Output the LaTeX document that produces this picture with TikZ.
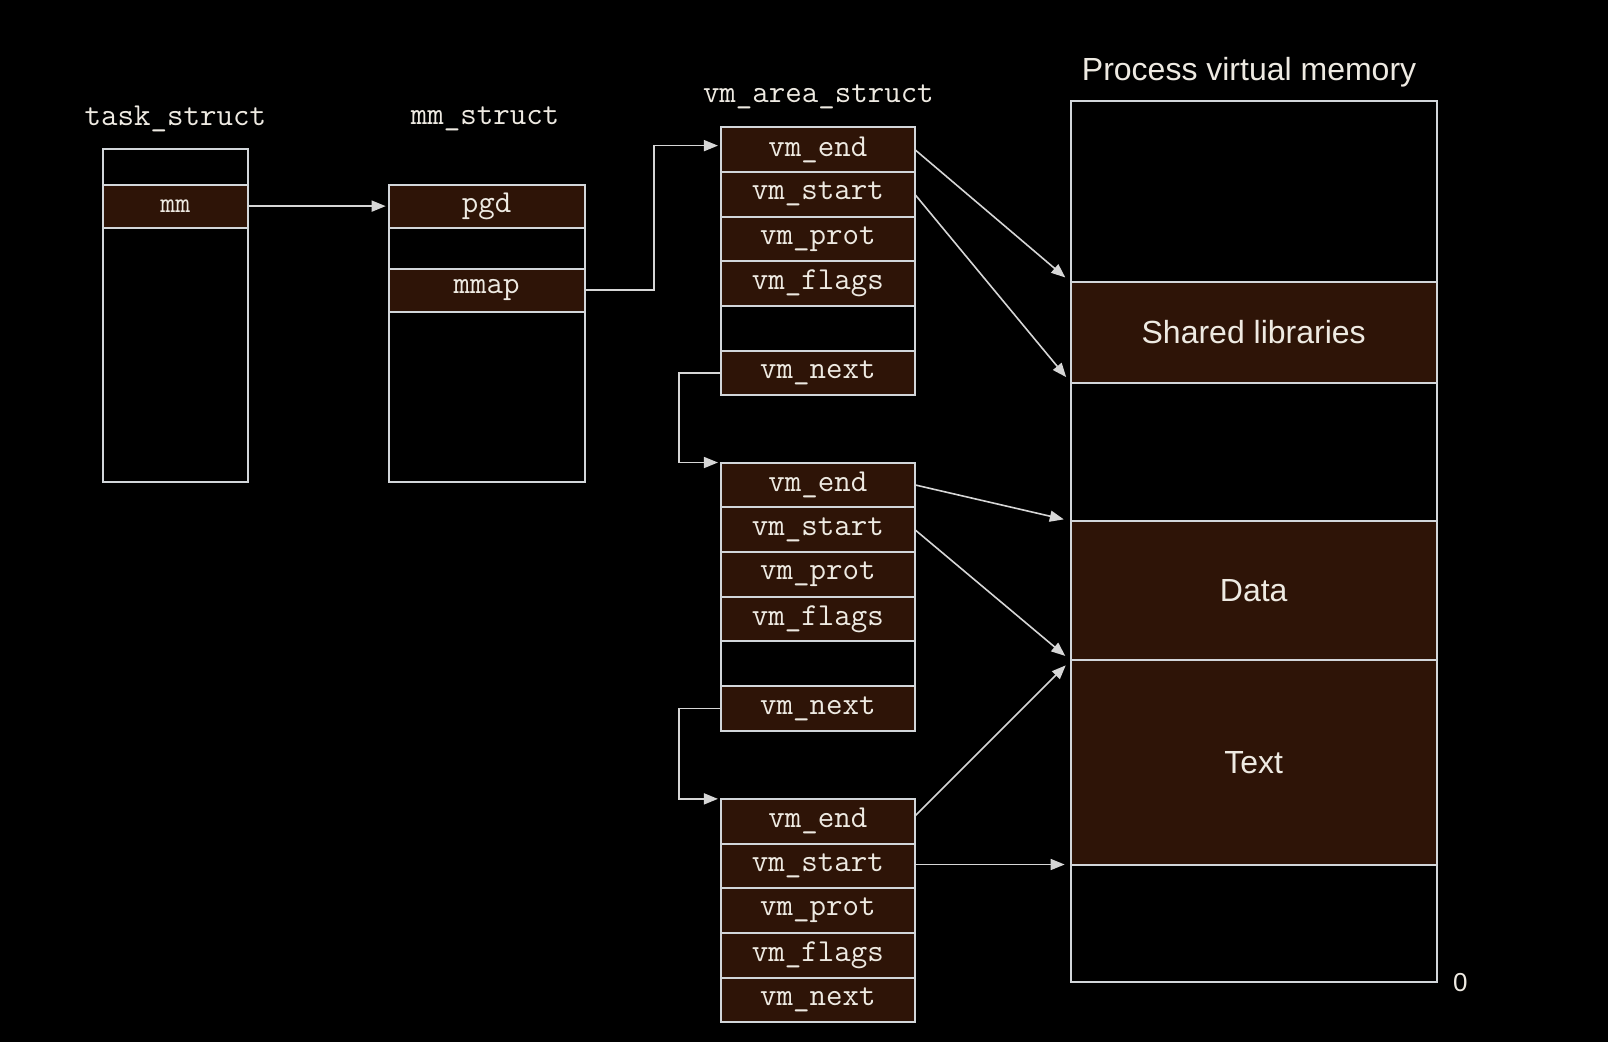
\documentclass[tikz,border=0pt]{standalone}
\usepackage{fontspec}
\setmainfont{Liberation Sans}
\usetikzlibrary{arrows.meta}
\definecolor{lineC}{HTML}{D2D6DA}
\definecolor{brownC}{HTML}{2E1407}
\definecolor{txtC}{HTML}{EEEAE2}
\definecolor{arrC}{HTML}{D6D6D6}
\newcommand\cellnode[7]{\node[#6, minimum width={(#4-#2)*0.5128pt}, minimum height={(#5-#3)*0.5128pt}] (#1) at ({(#2+#4)/2},{(#3+#5)/2}) {#7};}
\newcommand\cellfont{\ttfamily\addfontfeature{FakeBold=0.9}}
\tikzset{
  cellbase/.style={draw=lineC, line width=1pt, inner sep=0pt, outer sep=0pt, anchor=center},
  fieldcell/.style={cellbase, fill=brownC, text=txtC, font=\fontsize{16}{18}\cellfont\selectfont},
  smallcell/.style={cellbase, fill=brownC, text=txtC, font=\fontsize{14.5}{16}\cellfont\selectfont},
  emptycell/.style={cellbase, fill=black},
  segcell/.style={cellbase, fill=brownC, text=txtC, font=\fontsize{16}{19}\selectfont},
  titlelabel/.style={text=txtC, font=\ttfamily\fontsize{16}{18}\selectfont, inner sep=0pt},
  sanslabel/.style={text=txtC, font=\fontsize{16}{19}\selectfont, inner sep=0pt},
  conn/.style={draw=arrC, line width=0.8pt, -{Triangle[length=7pt,width=5.5pt,fill=arrC]}, shorten >=1.5pt},
  diag/.style={conn, shorten >=3.5pt}
}
\begin{document}
\begin{tikzpicture}[x=0.5128pt, y=-0.5128pt]
\fill[black] (0,0) rectangle (1568,1016);
\useasboundingbox (0,0) rectangle (1568,1016);

% labels
\node[titlelabel] (lt) at (171,116) {task\_struct};
\node[titlelabel] (lm) at (473,116) {mm\_struct};
\node[titlelabel] (lv) at (798,94) {vm\_area\_struct};
\node[sanslabel] (lp) at (1218,70) {Process virtual memory};
\node[text=txtC, font=\fontsize{13}{15}\selectfont, inner sep=0pt] (lz) at (1424,958) {0};

% task_struct
\cellnode{t0}{100}{145}{242}{180}{emptycell}{}
\cellnode{t2}{100}{222}{242}{470}{emptycell}{}
\cellnode{t1}{100}{180}{242}{222}{smallcell}{mm}

% mm_struct
\cellnode{m1}{379}{222}{570}{262}{emptycell}{}
\cellnode{m3}{379}{304}{570}{470}{emptycell}{}
\cellnode{m0}{379}{180}{570}{222}{fieldcell}{pgd}
\cellnode{m2}{379}{262}{570}{304}{fieldcell}{mmap}

% vm_area_struct 1
\cellnode{v1a}{703}{124}{892}{167.6}{fieldcell}{vm\_end}
\cellnode{v1b}{703}{167.6}{892}{211.2}{fieldcell}{vm\_start}
\cellnode{v1c}{703}{211.2}{892}{254.8}{fieldcell}{vm\_prot}
\cellnode{v1d}{703}{254.8}{892}{298.4}{fieldcell}{vm\_flags}
\cellnode{v1e}{703}{298.4}{892}{342}{emptycell}{}
\cellnode{v1f}{703}{342}{892}{385.6}{fieldcell}{vm\_next}

% vm_area_struct 2
\cellnode{v2a}{703}{451}{892}{494.6}{fieldcell}{vm\_end}
\cellnode{v2b}{703}{494.6}{892}{538.2}{fieldcell}{vm\_start}
\cellnode{v2c}{703}{538.2}{892}{581.8}{fieldcell}{vm\_prot}
\cellnode{v2d}{703}{581.8}{892}{625.4}{fieldcell}{vm\_flags}
\cellnode{v2e}{703}{625.4}{892}{669}{emptycell}{}
\cellnode{v2f}{703}{669}{892}{712.6}{fieldcell}{vm\_next}

% vm_area_struct 3
\cellnode{v3a}{703}{779}{892}{822.6}{fieldcell}{vm\_end}
\cellnode{v3b}{703}{822.6}{892}{866.2}{fieldcell}{vm\_start}
\cellnode{v3c}{703}{866.2}{892}{909.8}{fieldcell}{vm\_prot}
\cellnode{v3d}{703}{909.8}{892}{953.4}{fieldcell}{vm\_flags}
\cellnode{v3e}{703}{953.4}{892}{997}{fieldcell}{vm\_next}

% process virtual memory
\cellnode{p0}{1044}{98}{1401}{275}{emptycell}{}
\cellnode{p2}{1044}{373}{1401}{508}{emptycell}{}
\cellnode{p5}{1044}{843}{1401}{958}{emptycell}{}
\cellnode{p1}{1044}{275}{1401}{373}{segcell}{Shared libraries}
\cellnode{p3}{1044}{508}{1401}{644}{segcell}{Data}
\cellnode{p4}{1044}{644}{1401}{843}{segcell}{Text}

% connectors
\draw[conn] (t1.east) -- (m0.west);
\coordinate (c1) at (638,283);
\coordinate (c1t) at (638,142);
\draw[conn] (m2.east) -- (c1) -- (c1t) -- (c1t -| v1a.west);
\coordinate (c2) at (662,363.8);
\draw[conn] (v1f.west) -- (c2) |- (v2a.north west);
\coordinate (c3) at (662,690.8);
\draw[conn] (v2f.west) -- (c3) |- (v3a.north west);

\draw[diag] (v1a.east) -- (p1.north west);
\draw[diag] (v1b.east) -- (p1.south west);
\draw[diag] (v2a.east) -- (p3.north west);
\draw[diag] (v2b.east) -- (p3.south west);
\draw[diag] ([yshift=2.5pt]v3a.east) -- (p4.north west);
\draw[conn, shorten >=3pt] (v3b.east |- p4.south west) -- (p4.south west);
\end{tikzpicture}
\end{document}
